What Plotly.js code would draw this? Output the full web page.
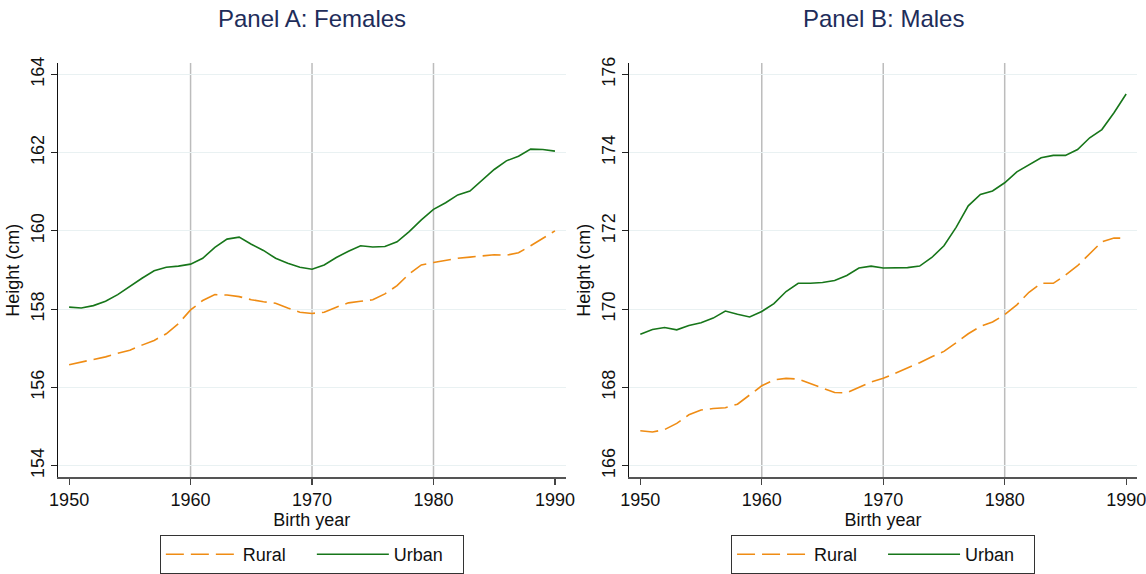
<!DOCTYPE html>
<html>
<head>
<meta charset="utf-8">
<script src="https://cdn.plot.ly/plotly-3.0.1.min.js"></script>
<style>html,body{margin:0;padding:0;background:#fff;}#chart{width:1146px;height:574px;}</style>
</head>
<body>
<div id="chart"></div>
<script>
var years = [1950,1951,1952,1953,1954,1955,1956,1957,1958,1959,1960,1961,1962,1963,1964,1965,1966,1967,1968,1969,1970,1971,1972,1973,1974,1975,1976,1977,1978,1979,1980,1981,1982,1983,1984,1985,1986,1987,1988,1989,1990];

var femaleRural = [156.58,156.65,156.71,156.78,156.87,156.95,157.08,157.20,157.37,157.63,157.98,158.22,158.37,158.36,158.32,158.24,158.19,158.15,158.03,157.92,157.89,157.92,158.05,158.16,158.20,158.24,158.39,158.60,158.90,159.13,159.19,159.25,159.30,159.33,159.36,159.39,159.38,159.44,159.62,159.81,160.00];
var femaleUrban = [158.05,158.03,158.09,158.20,158.37,158.59,158.79,158.98,159.07,159.10,159.15,159.30,159.58,159.79,159.84,159.66,159.50,159.30,159.17,159.07,159.02,159.13,159.32,159.48,159.62,159.59,159.60,159.72,159.98,160.28,160.55,160.72,160.92,161.02,161.29,161.57,161.79,161.91,162.09,162.08,162.04];

var maleRural = [166.89,166.86,166.92,167.08,167.30,167.42,167.46,167.48,167.57,167.81,168.04,168.19,168.23,168.21,168.10,167.97,167.87,167.86,167.99,168.14,168.23,168.36,168.48,168.63,168.78,168.92,169.14,169.37,169.56,169.67,169.86,170.11,170.43,170.66,170.66,170.87,171.11,171.41,171.72,171.82,171.81];
var maleUrban = [169.36,169.48,169.53,169.47,169.58,169.65,169.77,169.95,169.87,169.80,169.94,170.14,170.45,170.66,170.66,170.68,170.73,170.86,171.05,171.10,171.05,171.06,171.06,171.10,171.32,171.62,172.09,172.64,172.93,173.02,173.23,173.51,173.70,173.87,173.93,173.93,174.08,174.38,174.59,175.02,175.50];

var xTicks = [1950,1960,1970,1980,1990];
var femaleTicks = [154,156,158,160,162,164];
var maleTicks = [166,168,170,172,174,176];
var refYears = [1960,1970,1980];
var panelTitles = ["Panel A: Females","Panel B: Males"];
var seriesNames = ["Rural","Urban"];

var ORANGE = "#ef8c14", GREEN = "#17761a";
var FONT = "Liberation Sans, Arial, Helvetica, sans-serif";

var traces = [
  {x: years, y: femaleRural, name: seriesNames[0], xaxis:"x", yaxis:"y", legend:"legend", mode:"lines",
   line:{color:ORANGE, width:1.6, dash:"18px,7px"}},
  {x: years, y: femaleUrban, name: seriesNames[1], xaxis:"x", yaxis:"y", legend:"legend", mode:"lines",
   line:{color:GREEN, width:1.6}},
  {x: years, y: maleRural, name: seriesNames[0], xaxis:"x2", yaxis:"y2", legend:"legend2", mode:"lines",
   line:{color:ORANGE, width:1.6, dash:"18px,7px"}},
  {x: years, y: maleUrban, name: seriesNames[1], xaxis:"x2", yaxis:"y2", legend:"legend2", mode:"lines",
   line:{color:GREEN, width:1.6}}
];

var yDom = [1 - 479/574, 1 - 63.3/574];
var xDomA = [57.7/1146, 566/1146];
var xDomB = [628.9/1146, 1137.2/1146];
var xRange = [1949.06, 1990.91];

function xAxis(dom, anchor){
  return {domain: dom, anchor: anchor, range: xRange, tickvals: xTicks, ticktext: xTicks.map(String),
    showgrid:false, zeroline:false, showline:true, linecolor:"#555", linewidth:1.5,
    ticks:"outside", ticklen:6, tickcolor:"#444", tickwidth:1.2, ticklabeloverflow:"allow",
    tickfont:{family:FONT, size:18, color:"#111"},
    title:{text:"Birth year", font:{family:FONT, size:18, color:"#111"}, standoff:0}};
}
function yAxis(range, ticks, anchor){
  return {domain: yDom, anchor: anchor, range: range, tickvals: ticks, ticktext: ticks.map(String),
    tickangle:-90, showgrid:true, gridcolor:"#e9f1f2", gridwidth:1, zeroline:false,
    showline:true, linecolor:"#111", linewidth:1,
    ticks:"outside", ticklen:6, tickcolor:"#222", tickwidth:1, ticklabeloverflow:"allow",
    tickfont:{family:FONT, size:18, color:"#111"},
    title:{text:"Height (cm)", font:{family:FONT, size:18, color:"#111"}, standoff:3}};
}

var shapes = [];
refYears.forEach(function(yr){
  ["x","x2"].forEach(function(ax, i){
    shapes.push({type:"line", layer:"below", xref:ax, yref:(i===0?"y domain":"y2 domain"),
      x0:yr, x1:yr, y0:0, y1:1, line:{color:"#bcbcbc", width:1.5}});
  });
});

var legendBase = {orientation:"h", xanchor:"center", yanchor:"top", y:1-537/574,
  bordercolor:"#333", borderwidth:1, bgcolor:"#fff",
  font:{family:FONT, size:18, color:"#111"}, entrywidth:64, itemwidth:72};

var layout = {
  width:1146, height:574, margin:{l:0,r:0,t:0,b:0},
  paper_bgcolor:"#fff", plot_bgcolor:"#fff", showlegend:true,
  font:{family:FONT, size:18, color:"#111"},
  xaxis: xAxis(xDomA, "y"),
  yaxis: yAxis([153.70, 164.29], femaleTicks, "x"),
  xaxis2: xAxis(xDomB, "y2"),
  yaxis2: yAxis([165.70, 176.29], maleTicks, "x2"),
  shapes: shapes,
  legend: Object.assign({}, legendBase, {x:(xDomA[0]+xDomA[1])/2}),
  legend2: Object.assign({}, legendBase, {x:(xDomB[0]+xDomB[1])/2}),
  annotations: panelTitles.map(function(t, i){
    var d = i===0 ? xDomA : xDomB;
    return {text:t, xref:"paper", yref:"paper", x:(d[0]+d[1])/2, y:1-19/574,
      xanchor:"center", yanchor:"middle", showarrow:false,
      font:{family:FONT, size:24, color:"#1e2d5a"}};
  })
};

Plotly.newPlot("chart", traces, layout, {displayModeBar:false, staticPlot:true});
</script>
</body>
</html>
